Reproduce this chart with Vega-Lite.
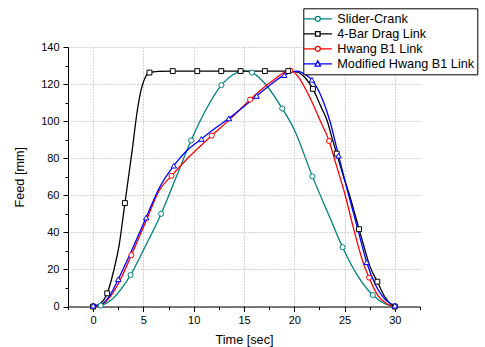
{
  "$schema": "https://vega.github.io/schema/vega-lite/v6.json",
  "autosize": {"type": "none"},
  "padding": {"left": 68, "top": 47, "right": 65, "bottom": 40.5},
  "width": 352,
  "height": 259.5,
  "config": {
    "view": {"stroke": null},
    "font": "Liberation Sans",
    "axis": {"domainColor": "black", "tickColor": "black", "labelColor": "black", "titleColor": "black", "labelFont": "Liberation Sans", "titleFont": "Liberation Sans", "labelFontSize": 11, "titleFontSize": 12.7, "titleFontWeight": "normal", "gridColor": "#a8a8a8", "gridDash": [1, 2], "gridWidth": 1, "domainWidth": 1, "tickWidth": 1}
  },
  "data": {"values": [
    {"s": "Slider-Crank", "t": 0, "f": 0, "m": 1},
    {"s": "Slider-Crank", "t": 0.75, "f": 0.5, "m": 1},
    {"s": "Slider-Crank", "t": 1.8, "f": 3.5, "m": 0},
    {"s": "Slider-Crank", "t": 2.8, "f": 9.5, "m": 0},
    {"s": "Slider-Crank", "t": 3.72, "f": 17, "m": 1},
    {"s": "Slider-Crank", "t": 5, "f": 30.4, "m": 0},
    {"s": "Slider-Crank", "t": 6.76, "f": 50, "m": 1},
    {"s": "Slider-Crank", "t": 8.2, "f": 69, "m": 0},
    {"s": "Slider-Crank", "t": 9.74, "f": 89.6, "m": 1},
    {"s": "Slider-Crank", "t": 11.2, "f": 106, "m": 0},
    {"s": "Slider-Crank", "t": 12.75, "f": 119.4, "m": 1},
    {"s": "Slider-Crank", "t": 14, "f": 125.3, "m": 0},
    {"s": "Slider-Crank", "t": 14.9, "f": 127, "m": 0},
    {"s": "Slider-Crank", "t": 15.8, "f": 126.2, "m": 1},
    {"s": "Slider-Crank", "t": 17.2, "f": 119.5, "m": 0},
    {"s": "Slider-Crank", "t": 18.8, "f": 106.8, "m": 1},
    {"s": "Slider-Crank", "t": 20, "f": 95.4, "m": 0},
    {"s": "Slider-Crank", "t": 21.8, "f": 70.2, "m": 1},
    {"s": "Slider-Crank", "t": 23.56, "f": 47.7, "m": 0},
    {"s": "Slider-Crank", "t": 24.8, "f": 32, "m": 1},
    {"s": "Slider-Crank", "t": 26.2, "f": 17.5, "m": 0},
    {"s": "Slider-Crank", "t": 27.8, "f": 6.2, "m": 1},
    {"s": "Slider-Crank", "t": 29, "f": 1.5, "m": 0},
    {"s": "Slider-Crank", "t": 30, "f": 0, "m": 0},
    {"s": "4-Bar Drag Link", "t": 0, "f": 0, "m": 1},
    {"s": "4-Bar Drag Link", "t": 0.7, "f": 1.5, "m": 0},
    {"s": "4-Bar Drag Link", "t": 1.4, "f": 7.1, "m": 1},
    {"s": "4-Bar Drag Link", "t": 2.06, "f": 19.7, "m": 0},
    {"s": "4-Bar Drag Link", "t": 2.56, "f": 32.3, "m": 0},
    {"s": "4-Bar Drag Link", "t": 3.16, "f": 55.8, "m": 1},
    {"s": "4-Bar Drag Link", "t": 3.89, "f": 84.6, "m": 0},
    {"s": "4-Bar Drag Link", "t": 4.4, "f": 106, "m": 0},
    {"s": "4-Bar Drag Link", "t": 4.8, "f": 117.5, "m": 0},
    {"s": "4-Bar Drag Link", "t": 5.2, "f": 123.8, "m": 0},
    {"s": "4-Bar Drag Link", "t": 5.6, "f": 126.2, "m": 1},
    {"s": "4-Bar Drag Link", "t": 6.5, "f": 126.8, "m": 0},
    {"s": "4-Bar Drag Link", "t": 7.92, "f": 127, "m": 1},
    {"s": "4-Bar Drag Link", "t": 10.35, "f": 127, "m": 1},
    {"s": "4-Bar Drag Link", "t": 12.74, "f": 127, "m": 1},
    {"s": "4-Bar Drag Link", "t": 14.66, "f": 127, "m": 1},
    {"s": "4-Bar Drag Link", "t": 17.08, "f": 127, "m": 1},
    {"s": "4-Bar Drag Link", "t": 19.4, "f": 127, "m": 1},
    {"s": "4-Bar Drag Link", "t": 20.3, "f": 126.5, "m": 0},
    {"s": "4-Bar Drag Link", "t": 21.1, "f": 123.3, "m": 0},
    {"s": "4-Bar Drag Link", "t": 21.85, "f": 117.4, "m": 1},
    {"s": "4-Bar Drag Link", "t": 22.6, "f": 108.5, "m": 0},
    {"s": "4-Bar Drag Link", "t": 23.3, "f": 99.7, "m": 0},
    {"s": "4-Bar Drag Link", "t": 23.8, "f": 90, "m": 0},
    {"s": "4-Bar Drag Link", "t": 24.22, "f": 82.5, "m": 1},
    {"s": "4-Bar Drag Link", "t": 24.9, "f": 70, "m": 0},
    {"s": "4-Bar Drag Link", "t": 25.55, "f": 59, "m": 0},
    {"s": "4-Bar Drag Link", "t": 26.44, "f": 41.7, "m": 1},
    {"s": "4-Bar Drag Link", "t": 27, "f": 31, "m": 0},
    {"s": "4-Bar Drag Link", "t": 27.53, "f": 21.5, "m": 0},
    {"s": "4-Bar Drag Link", "t": 28.26, "f": 13.4, "m": 1},
    {"s": "4-Bar Drag Link", "t": 29, "f": 5.2, "m": 0},
    {"s": "4-Bar Drag Link", "t": 29.6, "f": 1.3, "m": 0},
    {"s": "4-Bar Drag Link", "t": 30, "f": 0, "m": 1},
    {"s": "Hwang B1 Link", "t": 0, "f": 0, "m": 1},
    {"s": "Hwang B1 Link", "t": 0.8, "f": 0.8, "m": 0},
    {"s": "Hwang B1 Link", "t": 1.8, "f": 6, "m": 0},
    {"s": "Hwang B1 Link", "t": 2.8, "f": 15.5, "m": 0},
    {"s": "Hwang B1 Link", "t": 3.8, "f": 27.7, "m": 1},
    {"s": "Hwang B1 Link", "t": 5.3, "f": 46.5, "m": 0},
    {"s": "Hwang B1 Link", "t": 6.5, "f": 62, "m": 0},
    {"s": "Hwang B1 Link", "t": 7.79, "f": 70.5, "m": 1},
    {"s": "Hwang B1 Link", "t": 9.5, "f": 80.5, "m": 0},
    {"s": "Hwang B1 Link", "t": 11.79, "f": 92.2, "m": 1},
    {"s": "Hwang B1 Link", "t": 13.7, "f": 101.5, "m": 0},
    {"s": "Hwang B1 Link", "t": 15.6, "f": 111.6, "m": 1},
    {"s": "Hwang B1 Link", "t": 17.6, "f": 120.8, "m": 0},
    {"s": "Hwang B1 Link", "t": 19.6, "f": 127.3, "m": 1},
    {"s": "Hwang B1 Link", "t": 20.5, "f": 123.2, "m": 0},
    {"s": "Hwang B1 Link", "t": 20.9, "f": 119.5, "m": 0},
    {"s": "Hwang B1 Link", "t": 21.75, "f": 110.5, "m": 0},
    {"s": "Hwang B1 Link", "t": 22.6, "f": 100, "m": 0},
    {"s": "Hwang B1 Link", "t": 23.46, "f": 89.3, "m": 1},
    {"s": "Hwang B1 Link", "t": 24, "f": 79.5, "m": 0},
    {"s": "Hwang B1 Link", "t": 25.05, "f": 60.3, "m": 0},
    {"s": "Hwang B1 Link", "t": 25.97, "f": 40.5, "m": 0},
    {"s": "Hwang B1 Link", "t": 26.8, "f": 24.5, "m": 0},
    {"s": "Hwang B1 Link", "t": 27.43, "f": 15.6, "m": 1},
    {"s": "Hwang B1 Link", "t": 28.3, "f": 6, "m": 0},
    {"s": "Hwang B1 Link", "t": 29.2, "f": 1.5, "m": 0},
    {"s": "Hwang B1 Link", "t": 30, "f": 0, "m": 1},
    {"s": "Modified Hwang B1 Link", "t": 0, "f": 0.5, "m": 1},
    {"s": "Modified Hwang B1 Link", "t": 0.8, "f": 1.2, "m": 0},
    {"s": "Modified Hwang B1 Link", "t": 1.6, "f": 5.5, "m": 0},
    {"s": "Modified Hwang B1 Link", "t": 2.5, "f": 14.7, "m": 1},
    {"s": "Modified Hwang B1 Link", "t": 3.9, "f": 31, "m": 0},
    {"s": "Modified Hwang B1 Link", "t": 5.27, "f": 48, "m": 1},
    {"s": "Modified Hwang B1 Link", "t": 6.6, "f": 64.2, "m": 0},
    {"s": "Modified Hwang B1 Link", "t": 8.02, "f": 76, "m": 1},
    {"s": "Modified Hwang B1 Link", "t": 9.3, "f": 84, "m": 0},
    {"s": "Modified Hwang B1 Link", "t": 10.76, "f": 90.4, "m": 1},
    {"s": "Modified Hwang B1 Link", "t": 12.1, "f": 96, "m": 0},
    {"s": "Modified Hwang B1 Link", "t": 13.5, "f": 101.5, "m": 1},
    {"s": "Modified Hwang B1 Link", "t": 14.9, "f": 107.5, "m": 0},
    {"s": "Modified Hwang B1 Link", "t": 16.25, "f": 113.6, "m": 1},
    {"s": "Modified Hwang B1 Link", "t": 17.6, "f": 119.5, "m": 0},
    {"s": "Modified Hwang B1 Link", "t": 19, "f": 124.8, "m": 1},
    {"s": "Modified Hwang B1 Link", "t": 20.3, "f": 127, "m": 0},
    {"s": "Modified Hwang B1 Link", "t": 21, "f": 125.5, "m": 0},
    {"s": "Modified Hwang B1 Link", "t": 21.75, "f": 122.3, "m": 1},
    {"s": "Modified Hwang B1 Link", "t": 22.9, "f": 110.5, "m": 0},
    {"s": "Modified Hwang B1 Link", "t": 23.56, "f": 99.7, "m": 0},
    {"s": "Modified Hwang B1 Link", "t": 24.4, "f": 81.4, "m": 1},
    {"s": "Modified Hwang B1 Link", "t": 25.4, "f": 60.3, "m": 0},
    {"s": "Modified Hwang B1 Link", "t": 26.3, "f": 42, "m": 0},
    {"s": "Modified Hwang B1 Link", "t": 27.2, "f": 23.9, "m": 1},
    {"s": "Modified Hwang B1 Link", "t": 28, "f": 12.5, "m": 0},
    {"s": "Modified Hwang B1 Link", "t": 29, "f": 4, "m": 0},
    {"s": "Modified Hwang B1 Link", "t": 30, "f": 0.5, "m": 1}
  ]},
  "resolve": {"axis": {"x": "independent", "y": "independent"}},
  "layer": [
    {
      "mark": {"type": "line", "interpolate": "monotone", "strokeWidth": 1.3},
      "encoding": {
        "x": {"field": "t", "type": "quantitative", "scale": {"domain": [-2.5, 32.5], "nice": false, "zero": false},
              "axis": {"orient": "bottom", "values": [0, 5, 10, 15, 20, 25, 30], "grid": true, "tickSize": 5, "labelPadding": 3, "title": "Time [sec]", "titlePadding": 8, "labelFlush": false}},
        "y": {"field": "f", "type": "quantitative", "scale": {"domain": [0, 140], "nice": false},
              "axis": {"orient": "left", "values": [0, 20, 40, 60, 80, 100, 120, 140], "grid": true, "tickSize": 5, "labelPadding": 4, "title": "Feed [mm]", "titlePadding": 14}},
        "color": {"field": "s", "type": "nominal",
                  "scale": {"domain": ["Slider-Crank", "4-Bar Drag Link", "Hwang B1 Link", "Modified Hwang B1 Link"], "range": ["#008080", "#000000", "#ff0000", "#0000ff"]},
                  "legend": {"orient": "none", "legendX": 235.3, "legendY": -38.7, "title": null, "strokeColor": "black", "fillColor": "white", "padding": 3, "labelFontSize": 12.7, "labelFont": "Liberation Sans", "labelColor": "black", "labelOffset": 12, "symbolOffset": 4, "rowPadding": 0, "labelLimit": 300, "symbolSize": 169, "symbolStrokeWidth": 1.3,
                    "encode": {"symbols": {"update": {
                      "shape": {"signal": "datum.value === '4-Bar Drag Link' ? 'M-2.17,0H-0.35M0.35,0H2.17M-0.35,-0.35H0.35V0.35H-0.35Z' : datum.value === 'Modified Hwang B1 Link' ? 'M-2.17,0H-0.24M0.24,0H2.17M0,-0.45L0.42,0.35H-0.42Z' : 'M-2.17,0H-0.385M0.385,0H2.17M-0.385,0A0.385,0.385,0,1,1,0.385,0A0.385,0.385,0,1,1,-0.385,0Z'"},
                      "fill": {"value": "white"},
                      "fillOpacity": {"value": 1},
                      "strokeWidth": {"value": 1.3},
                      "size": {"value": 169}
                    }}}}}
      }
    },
    {
      "transform": [{"filter": "datum.m == 1 && (datum.s == 'Slider-Crank' || datum.s == 'Hwang B1 Link')"}],
      "mark": {"type": "point", "shape": "circle", "filled": false, "fill": "white", "fillOpacity": 1, "strokeWidth": 1, "size": 26, "opacity": 1},
      "encoding": {
        "x": {"field": "t", "type": "quantitative",
              "axis": {"orient": "bottom", "values": [-2.5, 2.5, 7.5, 12.5, 17.5, 22.5, 27.5, 32.5], "labels": false, "domain": false, "grid": false, "tickSize": 3, "title": null}},
        "y": {"field": "f", "type": "quantitative",
              "axis": {"orient": "left", "values": [10, 30, 50, 70, 90, 110, 130], "labels": false, "domain": false, "grid": false, "tickSize": 3, "title": null}},
        "color": {"field": "s", "type": "nominal"}
      }
    },
    {
      "transform": [{"filter": "datum.m == 1 && datum.s == '4-Bar Drag Link'"}],
      "mark": {"type": "point", "shape": "square", "filled": false, "fill": "white", "fillOpacity": 1, "strokeWidth": 1, "size": 24, "opacity": 1},
      "encoding": {
        "x": {"field": "t", "type": "quantitative", "axis": null},
        "y": {"field": "f", "type": "quantitative", "axis": null},
        "color": {"field": "s", "type": "nominal"}
      }
    },
    {
      "transform": [{"filter": "datum.m == 1 && datum.s == 'Modified Hwang B1 Link'"}],
      "mark": {"type": "point", "shape": "triangle-up", "filled": false, "fill": "white", "fillOpacity": 1, "strokeWidth": 1, "size": 30, "opacity": 1},
      "encoding": {
        "x": {"field": "t", "type": "quantitative", "axis": null},
        "y": {"field": "f", "type": "quantitative", "axis": null},
        "color": {"field": "s", "type": "nominal"}
      }
    }
  ]
}
